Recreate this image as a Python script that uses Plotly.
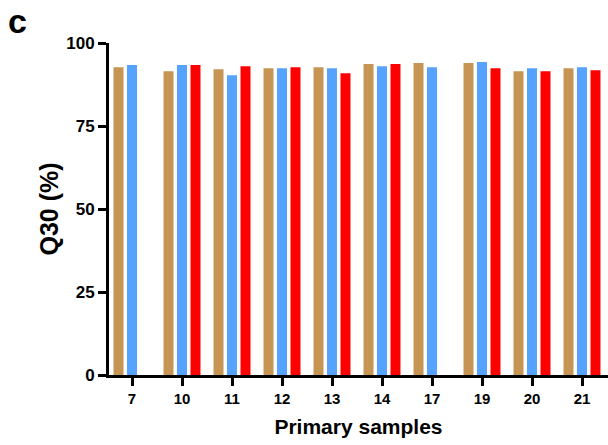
import plotly.graph_objects as go

categories = ["7", "10", "11", "12", "13", "14", "17", "19", "20", "21"]
series_a = [92.7, 91.5, 92.1, 92.4, 92.7, 93.7, 94.0, 94.0, 91.5, 92.4]
series_b = [93.4, 93.4, 90.3, 92.4, 92.4, 93.0, 92.7, 94.3, 92.4, 92.7]
series_c = [None, 93.4, 93.0, 92.7, 90.9, 93.7, None, 92.4, 91.5, 91.8]
colors = ["#C69553", "#56A2FF", "#FF0000"]

fig = go.Figure()
for vals, col in zip([series_a, series_b, series_c], colors):
    fig.add_trace(go.Bar(x=categories, y=vals, marker=dict(color=col, line=dict(width=0)),
                         showlegend=False))

font_family = "Liberation Sans, Arial, sans-serif"
PLOT_L, PLOT_T, PLOT_W, PLOT_H = 109, 43, 499, 332
fig.update_layout(
    width=608, height=445,
    margin=dict(l=PLOT_L, r=0, t=PLOT_T, b=70),
    paper_bgcolor="white", plot_bgcolor="white",
    barmode="group", bargap=0.19, bargroupgap=0.26,
    font=dict(family=font_family, color="black", weight="bold"),
    xaxis=dict(
        type="category", range=[-0.46, 9.52],
        showline=True, linecolor="black", linewidth=3,
        ticks="outside", ticklen=8, tickwidth=3, tickcolor="black",
        tickfont=dict(size=15, family=font_family, weight="bold"),
        title=dict(text="Primary samples", font=dict(size=21, family=font_family, weight="bold"), standoff=14),
        showgrid=False, zeroline=False,
    ),
    yaxis=dict(
        range=[0, 100], tickvals=[0, 25, 50, 75, 100],
        showline=True, linecolor="black", linewidth=3,
        ticks="outside", ticklen=8, tickwidth=3, tickcolor="black",
        tickfont=dict(size=17, family=font_family, weight="bold"),
        title=dict(text="Q30 (%)", font=dict(size=25, family=font_family, weight="bold"), standoff=1),
        showgrid=False, zeroline=False,
    ),
)
fig.update_layout(annotations=[dict(text="c", x=(6 - PLOT_L) / PLOT_W, y=1 + PLOT_T / PLOT_H,
                                    xref="paper", yref="paper", xanchor="left", yanchor="top",
                                    showarrow=False, font=dict(size=34, family=font_family, weight="bold"))])
fig.write_html("out.html")
